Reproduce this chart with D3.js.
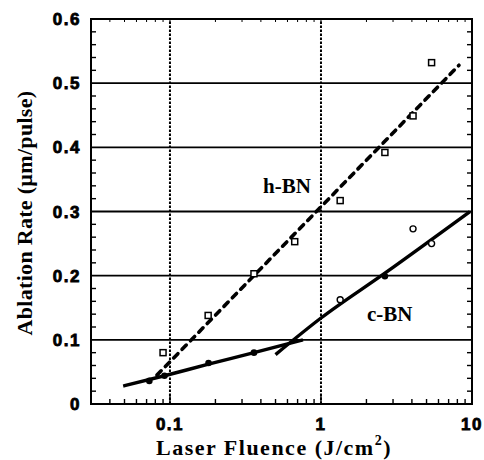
<!DOCTYPE html>
<html><head><meta charset="utf-8">
<script src="https://cdn.jsdelivr.net/npm/d3@7"></script>
<style>body{margin:0;background:#fff}svg{display:block}</style>
</head><body>
<script>
// Data
const hbnX = [0.09, 0.179, 0.36, 0.67, 1.34, 2.65, 4.07, 5.4];
const hbnY = [0.080, 0.138, 0.203, 0.253, 0.317, 0.392, 0.449, 0.532];
const hbnFitX = [0.082, 8.2];
const hbnFitY = [0.045, 0.528];
const cbnFilledX = [0.073, 0.092, 0.18, 0.36, 2.65];
const cbnFilledY = [0.036, 0.044, 0.064, 0.080, 0.199];
const cbnOpenX = [1.34, 4.07, 5.4];
const cbnOpenY = [0.1625, 0.273, 0.25];
const cbnLowFitX = [0.049, 0.092, 0.18, 0.36, 0.76];
const cbnLowFitY = [0.028, 0.044, 0.062, 0.080, 0.100];
const cbnHighFitX = [0.5, 1, 2.65, 9.7];
const cbnHighFitY = [0.077, 0.134, 0.204, 0.300];
const xTicks = [0.1, 1, 10];
const xTickLabels = ["0.1", "1", "10"];
const yTicks = [0, 0.1, 0.2, 0.3, 0.4, 0.5, 0.6];
const yTickLabels = ["0", "0.1", "0.2", "0.3", "0.4", "0.5", "0.6"];
const seriesLabels = ["h-BN", "c-BN"];

const W = 484, H = 460;
const m = {left: 91, right: 12, top: 19, bottom: 56};
const svg = d3.select("body").append("svg").attr("width", W).attr("height", H);
const x = d3.scaleLog().domain([0.03, 10]).range([m.left, W - m.right]);
const y = d3.scaleLinear().domain([0, 0.6]).range([H - m.bottom, m.top]);
const x0 = x.range()[0], x1 = x.range()[1], y0 = y.range()[0], y1 = y.range()[1];

// gridlines
const g = svg.append("g");
g.selectAll("line.hg").data(yTicks.filter(d => d > 0 && d < 0.6)).enter().append("line")
  .attr("x1", x0).attr("x2", x1).attr("y1", d => y(d)).attr("y2", d => y(d))
  .attr("stroke", "#000").attr("stroke-width", 1.8);
g.selectAll("line.vg").data(xTicks.filter(d => d < 10)).enter().append("line")
  .attr("x1", d => x(d)).attr("x2", d => x(d)).attr("y1", y0).attr("y2", y1)
  .attr("stroke", "#000").attr("stroke-width", 2).attr("stroke-dasharray", "2.5,1.5");

// minor ticks
const yMinor = d3.range(0, 0.6001, 0.02);
yMinor.forEach(v => {
  const major = Math.abs(v * 10 - Math.round(v * 10)) < 1e-6;
  const L = major ? 0 : 5;
  if (L) {
    svg.append("line").attr("x1", x0).attr("x2", x0 + L).attr("y1", y(v)).attr("y2", y(v)).attr("stroke", "#000").attr("stroke-width", 1.4);
    svg.append("line").attr("x1", x1).attr("x2", x1 - L).attr("y1", y(v)).attr("y2", y(v)).attr("stroke", "#000").attr("stroke-width", 1.4);
  }
});
const xMinor = [];
[0.01, 0.1, 1].forEach(dec => { for (let k = 1; k <= 9; k++) { const v = dec * k; if (v >= 0.03 && v <= 10) xMinor.push(v); } });
xMinor.forEach(v => {
  const major = xTicks.some(t => Math.abs(t - v) < 1e-9);
  svg.append("line").attr("x1", x(v)).attr("x2", x(v)).attr("y1", y0).attr("y2", y0 - (major ? 8 : 5)).attr("stroke", "#000").attr("stroke-width", 1.4);
  svg.append("line").attr("x1", x(v)).attr("x2", x(v)).attr("y1", y1).attr("y2", y1 + (major ? 5 : 3)).attr("stroke", "#000").attr("stroke-width", 1);
});
svg.append("line").attr("x1", x(10)).attr("x2", x(10)).attr("y1", y0).attr("y2", y0 - 8).attr("stroke", "#000").attr("stroke-width", 1.4);

// frame
svg.append("rect").attr("x", x0).attr("y", y1).attr("width", x1 - x0).attr("height", y0 - y1)
  .attr("fill", "none").attr("stroke", "#000").attr("stroke-width", 2);

// tick labels
const tickFont = "'Liberation Sans', Arial, sans-serif";
svg.selectAll("text.yt").data(yTicks).enter().append("text")
  .attr("x", x0 - 10).attr("y", d => y(d)).attr("dy", "0.36em").attr("text-anchor", "end")
  .attr("font-family", tickFont).attr("font-weight", "bold").attr("font-size", 17)
  .attr("letter-spacing", 1.5).attr("stroke", "#000").attr("stroke-width", 0.8)
  .text((d, i) => yTickLabels[i]);
svg.selectAll("text.xt").data(xTicks).enter().append("text")
  .attr("x", d => x(d)).attr("y", y0 + 26).attr("text-anchor", "middle")
  .attr("font-family", tickFont).attr("font-weight", "bold").attr("font-size", 17)
  .attr("letter-spacing", 1.5).attr("stroke", "#000").attr("stroke-width", 0.8)
  .text((d, i) => xTickLabels[i]);

// axis titles
const serif = "'Liberation Serif', 'Times New Roman', serif";
const xt = svg.append("text").attr("x", 274).attr("y", 455).attr("text-anchor", "middle")
  .attr("font-family", serif).attr("font-weight", "bold").attr("font-size", 22).attr("letter-spacing", 1.5);
xt.append("tspan").text("Laser Fluence (J/cm");
xt.append("tspan").attr("dy", -10).attr("font-size", 14).text("2");
xt.append("tspan").attr("dy", 10).text(")");
svg.append("text").attr("transform", `translate(32,213) rotate(-90)`)
  .attr("text-anchor", "middle").attr("font-family", serif).attr("font-weight", "bold").attr("font-size", 22)
  .attr("letter-spacing", 0.3)
  .text("Ablation Rate (\u00b5m/pulse)");

// fit lines
const line = d3.line().x(d => x(d[0])).y(d => y(d[1]));
const curve = d3.line().curve(d3.curveMonotoneX).x(d => x(d[0])).y(d => y(d[1]));
svg.append("path").datum(hbnFitX.map((v, i) => [v, hbnFitY[i]])).attr("d", line)
  .attr("fill", "none").attr("stroke", "#000").attr("stroke-width", 3.6).attr("stroke-dasharray", "6,6")
  .attr("stroke-linecap", "round");
svg.append("path").datum(cbnLowFitX.map((v, i) => [v, cbnLowFitY[i]])).attr("d", curve)
  .attr("fill", "none").attr("stroke", "#000").attr("stroke-width", 3.4);
svg.append("path").datum(cbnHighFitX.map((v, i) => [v, cbnHighFitY[i]])).attr("d", curve)
  .attr("fill", "none").attr("stroke", "#000").attr("stroke-width", 3.4);

// markers
svg.selectAll("rect.h").data(hbnX.map((v, i) => [v, hbnY[i]])).enter().append("rect")
  .attr("x", d => x(d[0]) - 3).attr("y", d => y(d[1]) - 3).attr("width", 6).attr("height", 6)
  .attr("fill", "#fff").attr("stroke", "#000").attr("stroke-width", 1.5);
svg.selectAll("circle.cf").data(cbnFilledX.map((v, i) => [v, cbnFilledY[i]])).enter().append("circle")
  .attr("cx", d => x(d[0])).attr("cy", d => y(d[1])).attr("r", 3.3).attr("fill", "#000");
svg.selectAll("circle.co").data(cbnOpenX.map((v, i) => [v, cbnOpenY[i]])).enter().append("circle")
  .attr("cx", d => x(d[0])).attr("cy", d => y(d[1])).attr("r", 3).attr("fill", "#fff").attr("stroke", "#000").attr("stroke-width", 1.4);

// series labels
svg.append("text").attr("x", 263).attr("y", 193).attr("font-family", serif).attr("font-weight", "bold").attr("font-size", 21).text(seriesLabels[0]);
svg.append("text").attr("x", 367).attr("y", 321).attr("font-family", serif).attr("font-weight", "bold").attr("font-size", 21).text(seriesLabels[1]);
</script>
</body></html>
